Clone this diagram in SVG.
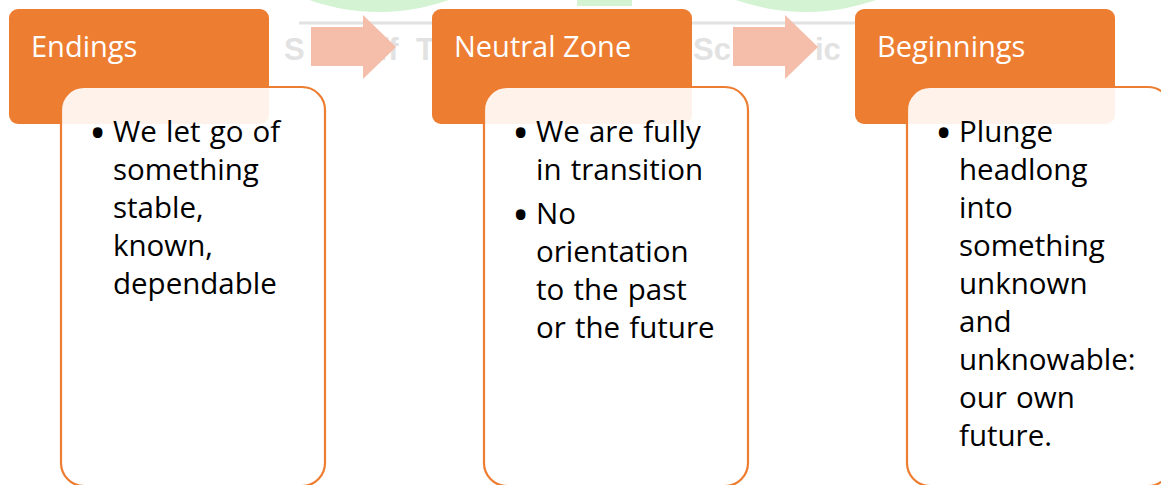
<svg xmlns="http://www.w3.org/2000/svg" width="1161" height="485" viewBox="0 0 1161 485">
  <style>
    .hdr { fill: #ED7D31; }
    .body { fill: #FFFFFF; fill-opacity: 0.9; stroke: #ED7D31; stroke-width: 2.2; }
    .htxt { font-family: "Open Sans", "Liberation Sans", sans-serif; font-size: 29px; fill: #FFFFFF; }
    .btxt { font-family: "Open Sans", "Liberation Sans", sans-serif; font-size: 29.5px; fill: #000000; word-spacing: 1.5px; }
    .bullet { font-family: "Open Sans", "Liberation Sans", sans-serif; font-size: 46px; fill: #000000; }
    .arrow { fill: #F4BEAA; }
    .wm { fill: #D3F3D3; }
    .wmtxt { font-family: "Liberation Sans", sans-serif; font-weight: bold; font-size: 31px; fill: #E2E2E2; }
  </style>
  <defs>
    <path id="arrowShape" d="M0,27 H52 V15 L85,47 L52,79 V66 H0 Z"/>
  </defs>

  <rect width="1161" height="485" fill="#FFFFFF"/>

  <!-- faint background logo -->
  <g id="background-mark">
    <circle class="wm" cx="379" cy="-198" r="210"/>
    <rect class="wm" x="577" y="-2" width="55" height="8"/>
    <circle class="wm" cx="806" cy="-198" r="210"/>
    <line x1="299" y1="23" x2="855" y2="23" stroke="#E2E2E2" stroke-width="3"/>
    <text class="wmtxt" x="284" y="60">S</text>
    <text class="wmtxt" x="378" y="60">ff</text>
    <text class="wmtxt" x="416" y="60">T</text>
    <text class="wmtxt" x="693" y="60">Sc</text>
    <text class="wmtxt" x="815" y="60">ic</text>
  </g>

  <!-- connectors -->
  <g id="connectors">
    <use href="#arrowShape" class="arrow" x="311" y="0"/>
    <use href="#arrowShape" class="arrow" x="733" y="0"/>
  </g>

  <g id="node-endings">
    <rect class="hdr" x="9" y="9" width="260" height="115" rx="9"/>
    <rect class="body" x="61" y="87" width="264" height="399" rx="23"/>
    <text class="htxt" x="31" y="57">Endings</text>
    <text class="bullet" x="89" y="149">•</text>
    <text class="btxt">
      <tspan x="113" y="142">We let go of</tspan>
      <tspan x="113" y="180">something</tspan>
      <tspan x="113" y="218">stable,</tspan>
      <tspan x="113" y="256">known,</tspan>
      <tspan x="113" y="294">dependable</tspan>
    </text>
  </g>

  <g id="node-neutral-zone">
    <rect class="hdr" x="432" y="9" width="260" height="115" rx="9"/>
    <rect class="body" x="484" y="87" width="264" height="399" rx="23"/>
    <text class="htxt" x="454" y="57">Neutral Zone</text>
    <text class="bullet" x="512" y="149">•</text>
    <text class="bullet" x="512" y="231">•</text>
    <text class="btxt">
      <tspan x="536" y="142">We are fully</tspan>
      <tspan x="536" y="180">in transition</tspan>
      <tspan x="536" y="224">No</tspan>
      <tspan x="536" y="262">orientation</tspan>
      <tspan x="536" y="300">to the past</tspan>
      <tspan x="536" y="338">or the future</tspan>
    </text>
  </g>

  <g id="node-beginnings">
    <rect class="hdr" x="855" y="9" width="260" height="115" rx="9"/>
    <rect class="body" x="907" y="87" width="264" height="399" rx="23"/>
    <text class="htxt" x="877" y="57">Beginnings</text>
    <text class="bullet" x="935" y="149">•</text>
    <text class="btxt">
      <tspan x="959" y="142">Plunge</tspan>
      <tspan x="959" y="180">headlong</tspan>
      <tspan x="959" y="218">into</tspan>
      <tspan x="959" y="256">something</tspan>
      <tspan x="959" y="294">unknown</tspan>
      <tspan x="959" y="332">and</tspan>
      <tspan x="959" y="370">unknowable:</tspan>
      <tspan x="959" y="408">our own</tspan>
      <tspan x="959" y="446">future.</tspan>
    </text>
  </g>
</svg>
